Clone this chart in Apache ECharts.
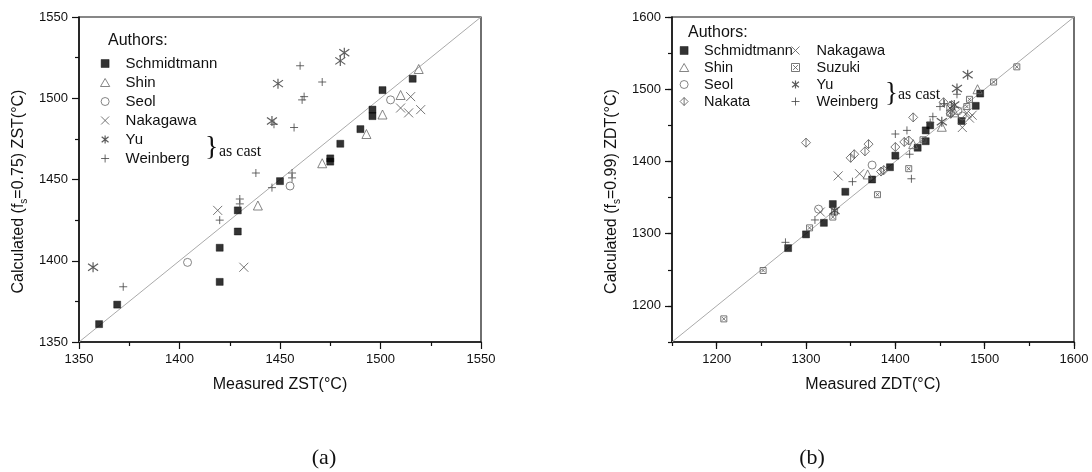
<!DOCTYPE html>
<html lang="en">
<head>
<meta charset="utf-8"/>
<title>ZST / ZDT calculated vs measured</title>
<script src="https://cdn.jsdelivr.net/npm/echarts@6.0.0/dist/echarts.min.js"></script>
<style>
    html, body { margin: 0; padding: 0; background: #fff; }
    #main { width: 1092px; height: 472px; }
</style>
</head>
<body>
<div id="main"></div>
<script>
    // (a) ZST, measured vs calculated (fs = 0.75)
    var zstSchmidtmann = [[1360,1361],[1369,1373],[1420,1387],[1420,1408],[1429,1418],[1429,1431],[1450,1449],[1475,1461],[1475,1463],[1480,1472],[1490,1481],[1496,1493],[1496,1489],[1501,1505],[1516,1512]];
    var zstShin = [[1439,1434],[1471,1460],[1493,1478],[1501,1490],[1510,1502],[1519,1518]];
    var zstSeol = [[1404,1399],[1455,1446],[1505,1499]];
    var zstNakagawa = [[1419,1431],[1432,1396],[1510,1494],[1515,1501],[1514,1491],[1520,1493]];
    var zstYu = [[1357,1396],[1446,1486],[1449,1509],[1480,1523],[1482,1528]];
    var zstWeinberg = [[1372,1384],[1420,1425],[1430,1438],[1430,1435],[1438,1454],[1446,1445],[1447,1484],[1456,1454],[1456,1451],[1457,1482],[1460,1520],[1461,1499],[1462,1501],[1471,1510]];
    var zstDiagonal = [[1350,1350],[1550,1550]];

    // (b) ZDT, measured vs calculated (fs = 0.99)
    var zdtSchmidtmann = [[1280,1280],[1300,1299],[1320,1315],[1330,1341],[1344,1358],[1374,1375],[1394,1392],[1400,1408],[1425,1419],[1434,1428],[1434,1443],[1439,1450],[1474,1456],[1490,1477],[1495,1494]];
    var zdtShin = [[1369,1382],[1420,1424],[1452,1448],[1466,1468],[1492,1500]];
    var zdtSeol = [[1314,1334],[1374,1395],[1470,1470],[1475,1463]];
    var zdtNakata = [[1300,1426],[1350,1405],[1354,1410],[1366,1414],[1370,1424],[1384,1386],[1387,1388],[1400,1420],[1410,1427],[1415,1429],[1420,1461],[1454,1482],[1462,1466],[1463,1478]];
    var zdtNakagawa = [[1316,1330],[1336,1380],[1360,1383],[1475,1447],[1483,1460],[1480,1467],[1486,1464]];
    var zdtSuzuki = [[1208,1182],[1252,1249],[1304,1308],[1330,1323],[1332,1330],[1380,1354],[1415,1390],[1431,1430],[1461,1474],[1461,1467],[1480,1476],[1483,1486],[1510,1510],[1536,1531]];
    var zdtYu = [[1332,1332],[1452,1455],[1466,1478],[1469,1501],[1481,1520]];
    var zdtWeinberg = [[1277,1288],[1310,1319],[1352,1372],[1400,1438],[1413,1443],[1416,1410],[1418,1376],[1439,1454],[1442,1462],[1450,1476],[1455,1480],[1469,1493]];
    var zdtDiagonal = [[1150,1150],[1600,1600]];

    var zdtMajorTicks = [1200, 1300, 1400, 1500, 1600];

    var legendA = ['Schmidtmann', 'Shin', 'Seol', 'Nakagawa', 'Yu', 'Weinberg'];
    var legendB1 = ['Schmidtmann', 'Shin', 'Seol', 'Nakata'];
    var legendB2 = ['Nakagawa', 'Suzuki', 'Yu', 'Weinberg'];

    var SANS = '"Liberation Sans", Arial, sans-serif';
    var SERIF = '"Liberation Serif", "Times New Roman", serif';

    var SQ = 'path://M0,0L10,0L10,10L0,10Z';
    var TRI = 'path://M5,0L10,8.66L0,8.66Z';
    var CIR = 'path://M0,5A5,5,0,1,0,10,5A5,5,0,1,0,0,5Z';
    var CROSS = 'path://M0,0L10,10M10,0L0,10';
    var STAR = 'path://M5,0L5,10M0.7,1.5L9.3,8.5M0.7,8.5L9.3,1.5';
    var PLUS = 'path://M5,0L5,10M0,5L10,5';
    var BOXX = 'path://M0,0L10,0L10,10L0,10ZM2,2L8,8M8,2L2,8';
    var DIAM = 'path://M5,0L10,5L5,10L0,5ZM5,0L5,10';
    var NONE = 'rgba(0,0,0,0)';

    var styles = {
        Schmidtmann: {symbol: SQ, size: 7, itemStyle: {color: '#000', borderColor: '#000', borderWidth: 0.5}},
        Shin: {symbol: TRI, size: 9, itemStyle: {color: NONE, borderColor: '#666', borderWidth: 1}},
        Seol: {symbol: CIR, size: 8, itemStyle: {color: NONE, borderColor: '#666', borderWidth: 1}},
        Nakata: {symbol: DIAM, size: 9, itemStyle: {color: NONE, borderColor: '#555', borderWidth: 1}},
        Nakagawa: {symbol: CROSS, size: 9, itemStyle: {color: NONE, borderColor: '#555', borderWidth: 1}},
        Suzuki: {symbol: BOXX, size: 6, itemStyle: {color: NONE, borderColor: '#555', borderWidth: 1}},
        Yu: {symbol: STAR, size: 10, itemStyle: {color: NONE, borderColor: '#333', borderWidth: 1.2}},
        Weinberg: {symbol: PLUS, size: 8, itemStyle: {color: NONE, borderColor: '#444', borderWidth: 1}}
    };

    function scatter(name, data, axis) {
        var s = styles[name];
        return {
            name: name, type: 'scatter', data: data,
            xAxisIndex: axis, yAxisIndex: axis,
            symbol: s.symbol, symbolSize: s.size,
            itemStyle: s.itemStyle, silent: true, z: 3
        };
    }

    function diagonal(data, axis) {
        return {
            type: 'line', data: data, xAxisIndex: axis, yAxisIndex: axis,
            showSymbol: false, silent: true, z: 1,
            lineStyle: {color: '#aaa', width: 1}
        };
    }

    function legendItems(names) {
        return names.map(function (n) {
            return {name: n, icon: styles[n].symbol, itemStyle: styles[n].itemStyle};
        });
    }

    var axisLine = {lineStyle: {color: '#111', width: 1.5}};
    var axisLabel = {margin: 11, fontSize: 13, color: '#111', fontFamily: SANS};
    var plainLabel = Object.assign({}, axisLabel, {formatter: function (v) { return String(v); }});
    var hundredLabel = Object.assign({}, axisLabel, {formatter: function (v) { return v % 100 === 0 ? String(v) : ''; }});

    function yName(fs, kind) {
        return '{a|Calculated (f}{s|s}{a|=' + fs + ') ' + kind + '(°C)}';
    }
    var yNameStyle = {
        padding: [0, 24, 0, 0],
        rich: {
            a: {fontSize: 16, fontFamily: SANS, color: '#111', lineHeight: 20},
            s: {fontSize: 10, fontFamily: SANS, color: '#111', lineHeight: 10, verticalAlign: 'bottom'}
        }
    };
    var xNameStyle = {fontSize: 16, fontFamily: SANS, color: '#111'};
    var majorTick = {length: 7, lineStyle: {color: '#111', width: 1.2}};
    var minorTick = {show: true, splitNumber: 2, length: 4, lineStyle: {color: '#111', width: 1.2}};

    var legendBase = {
        orient: 'vertical', padding: 0, itemHeight: 8, selectedMode: false,
        textStyle: {fontSize: 15, fontFamily: SANS, color: '#111'}
    };

    var chart = echarts.init(document.getElementById('main'));
    var option = {
        animation: false,
        backgroundColor: '#fff',
        grid: [
            {left: 79, top: 17, width: 402, height: 325, show: true, borderColor: '#111', borderWidth: 1.2},
            {left: 672, top: 17, width: 402, height: 325, show: true, borderColor: '#111', borderWidth: 1.2}
        ],
        xAxis: [
            {
                type: 'value', gridIndex: 0, position: 'bottom', min: 1350, max: 1550, interval: 50,
                name: 'Measured ZST(°C)', nameLocation: 'middle', nameGap: 35, nameTextStyle: xNameStyle,
                axisLine: axisLine, axisTick: majorTick, minorTick: minorTick,
                splitLine: {show: false}, axisLabel: plainLabel
            },
            {
                type: 'value', gridIndex: 1, position: 'bottom', min: 1150, max: 1600, interval: 50,
                name: 'Measured ZDT(°C)', nameLocation: 'middle', nameGap: 35, nameTextStyle: xNameStyle,
                axisLine: axisLine, axisTick: {length: 4, lineStyle: {color: '#111', width: 1.2}},
                splitLine: {show: false}, axisLabel: hundredLabel
            },
            {
                type: 'value', gridIndex: 1, position: 'bottom', min: 1150, max: 1600, interval: 50,
                axisLine: {show: false}, axisLabel: {show: false}, splitLine: {show: false},
                axisTick: {show: true, customValues: zdtMajorTicks, length: 7, lineStyle: {color: '#111', width: 1.2}}
            }
        ],
        yAxis: [
            {
                type: 'value', gridIndex: 0, position: 'left', min: 1350, max: 1550, interval: 50,
                name: yName('0.75', 'ZST'), nameLocation: 'middle', nameRotate: 90, nameGap: 50, nameTextStyle: yNameStyle,
                axisLine: axisLine, axisTick: majorTick, minorTick: minorTick,
                splitLine: {show: false}, axisLabel: plainLabel
            },
            {
                type: 'value', gridIndex: 1, position: 'left', min: 1150, max: 1600, interval: 50,
                name: yName('0.99', 'ZDT'), nameLocation: 'middle', nameRotate: 90, nameGap: 50, nameTextStyle: yNameStyle,
                axisLine: axisLine, axisTick: {length: 4, lineStyle: {color: '#111', width: 1.2}},
                splitLine: {show: false}, axisLabel: hundredLabel
            },
            {
                type: 'value', gridIndex: 1, position: 'left', min: 1150, max: 1600, interval: 50,
                axisLine: {show: false}, axisLabel: {show: false}, splitLine: {show: false},
                axisTick: {show: true, customValues: zdtMajorTicks, length: 7, lineStyle: {color: '#111', width: 1.2}}
            }
        ],
        legend: [
            Object.assign({}, legendBase, {left: 100, top: 56, itemWidth: 31, itemGap: 4, data: legendItems(legendA)}),
            Object.assign({}, legendBase, {left: 679, top: 43, itemWidth: 30, itemGap: 2, data: legendItems(legendB1),
                textStyle: {fontSize: 14.5, fontFamily: SANS, color: '#111'}}),
            Object.assign({}, legendBase, {left: 791, top: 43, itemWidth: 32, itemGap: 2, data: legendItems(legendB2),
                textStyle: {fontSize: 14.5, fontFamily: SANS, color: '#111'}})
        ],
        graphic: [
            {type: 'text', x: 108, y: 41, style: {text: 'Authors:', font: '16px ' + SANS, fill: '#111', verticalAlign: 'middle', textVerticalAlign: 'middle'}},
            {type: 'text', x: 688, y: 33, style: {text: 'Authors:', font: '16px ' + SANS, fill: '#111', verticalAlign: 'middle', textVerticalAlign: 'middle'}},
            {type: 'text', x: 205, y: 148, style: {text: '}', font: '28px ' + SERIF, fill: '#111', verticalAlign: 'middle', textVerticalAlign: 'middle'}},
            {type: 'text', x: 219, y: 152, style: {text: 'as cast', font: '16px ' + SERIF, fill: '#111', verticalAlign: 'middle', textVerticalAlign: 'middle'}},
            {type: 'text', x: 885, y: 94, style: {text: '}', font: '27px ' + SERIF, fill: '#111', verticalAlign: 'middle', textVerticalAlign: 'middle'}},
            {type: 'text', x: 898, y: 95, style: {text: 'as cast', font: '16px ' + SERIF, fill: '#111', verticalAlign: 'middle', textVerticalAlign: 'middle'}},
            {type: 'text', x: 324, y: 458, style: {text: '(a)', font: '22px ' + SERIF, fill: '#111', align: 'center', textAlign: 'center', verticalAlign: 'middle', textVerticalAlign: 'middle'}},
            {type: 'text', x: 812, y: 458, style: {text: '(b)', font: '22px ' + SERIF, fill: '#111', align: 'center', textAlign: 'center', verticalAlign: 'middle', textVerticalAlign: 'middle'}}
        ],
        series: [
            diagonal(zstDiagonal, 0),
            scatter('Schmidtmann', zstSchmidtmann, 0),
            scatter('Shin', zstShin, 0),
            scatter('Seol', zstSeol, 0),
            scatter('Nakagawa', zstNakagawa, 0),
            scatter('Yu', zstYu, 0),
            scatter('Weinberg', zstWeinberg, 0),
            diagonal(zdtDiagonal, 1),
            scatter('Schmidtmann', zdtSchmidtmann, 1),
            scatter('Shin', zdtShin, 1),
            scatter('Seol', zdtSeol, 1),
            scatter('Nakata', zdtNakata, 1),
            scatter('Nakagawa', zdtNakagawa, 1),
            scatter('Suzuki', zdtSuzuki, 1),
            scatter('Yu', zdtYu, 1),
            scatter('Weinberg', zdtWeinberg, 1)
        ]
    };
    chart.setOption(option);
</script>
</body>
</html>
